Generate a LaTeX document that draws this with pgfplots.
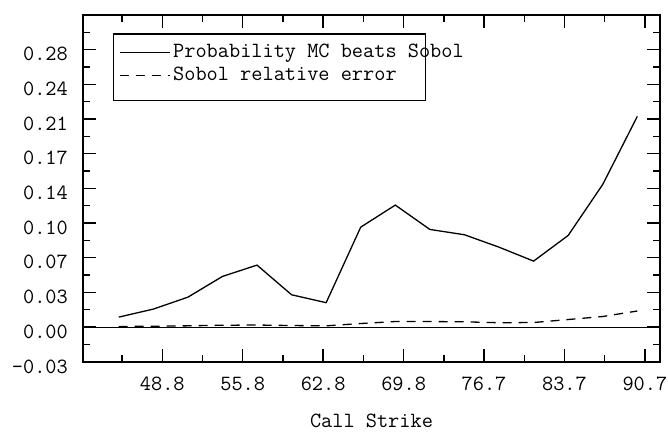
\documentclass[border=0pt]{standalone}
\usepackage{pgfplots}
\pgfplotsset{compat=1.18}
\usepackage{fontspec}
\setmainfont{Liberation Mono}
\pgfplotstableread{
x y
45 0.0099
48 0.0179
51 0.0298
54 0.0505
57 0.0618
60 0.0322
63 0.0243
66 0.0997
69 0.1217
72 0.0974
75 0.0921
78 0.0797
81 0.0658
84 0.0914
87 0.1423
90 0.2102
}\probtable
\pgfplotstableread{
x y
45 0.0005
48 0.0008
51 0.0012
54 0.0018
57 0.0020
60 0.0015
63 0.0012
66 0.0035
69 0.0055
72 0.0055
75 0.0052
78 0.0043
81 0.0045
84 0.0075
87 0.0105
90 0.0160
}\sobtable
\begin{document}
\ttfamily\fontsize{21.7}{24}\selectfont
\begin{tikzpicture}
\path[use as bounding box] (-83pt,-70.3pt) rectangle (585pt,361.7pt);
\begin{axis}[
  at={(0pt,0pt)}, anchor=south west, scale only axis,
  width=577pt, height=346.7pt,
  font=\ttfamily\fontsize{21.7}{24}\selectfont,
  xmin=41.9, xmax=91.97, ymin=-0.0346, ymax=0.3114,
  xtick={48.78,55.76,62.74,69.72,76.70,83.68,90.66},
  xticklabels={48.8,55.8,62.8,69.8,76.7,83.7,90.7},
  minor xtick={45.29,52.27,59.25,66.23,73.21,80.19,87.17},
  ytick={-0.0346,0,0.0346,0.0692,0.1038,0.1384,0.173,0.2076,0.2422,0.2768},
  yticklabels={-0.03,0.00,0.03,0.07,0.10,0.14,0.17,0.21,0.24,0.28},
  minor ytick={-0.0173,0.0173,0.0519,0.0865,0.1211,0.1557,0.1903,0.2249,0.2595,0.2941},
  major tick length=13pt, minor tick length=7pt,
  tick style={line width=1.5pt, black},
  axis line style={line width=1.6pt, black},
  tick align=inside,
  xticklabel style={anchor=base, yshift=-28.3pt, inner sep=0pt},
  yticklabel style={anchor=base east, inner sep=0pt, xshift=-15pt, yshift=-11.3pt},
  xlabel={Call Strike},
  xlabel style={at={(axis description cs:0.5,0)}, anchor=base, yshift=-65.5pt, inner sep=0pt},
  legend style={at={(29.7pt,328.4pt)}, anchor=north west, draw=black, line width=1.4pt, fill=white,
    inner xsep=5.5pt, inner ysep=10.2pt, row sep=0pt, column sep=0pt,
    nodes={inner xsep=3pt, inner ysep=0pt, text height=13.2pt, text depth=9.8pt},
    cells={anchor=center}},
  legend cell align=left,
  legend image code/.code={\draw[#1] (0pt,3.3pt) -- (50pt,3.3pt);},
]
\addplot[black, line width=0.8pt, forget plot] coordinates {(41.9,0) (91.97,0)};
\addplot[black, line width=1.3pt] table[x=x,y=y] {\probtable};
\addlegendentry{\makebox[244pt][l]{Probability MC beats Sobol}}
\addplot[black, line width=1.3pt, dash pattern=on 9pt off 7pt] table[x=x,y=y] {\sobtable};
\addlegendentry{\makebox[244pt][l]{Sobol relative error}}
\end{axis}
\end{tikzpicture}
\end{document}
